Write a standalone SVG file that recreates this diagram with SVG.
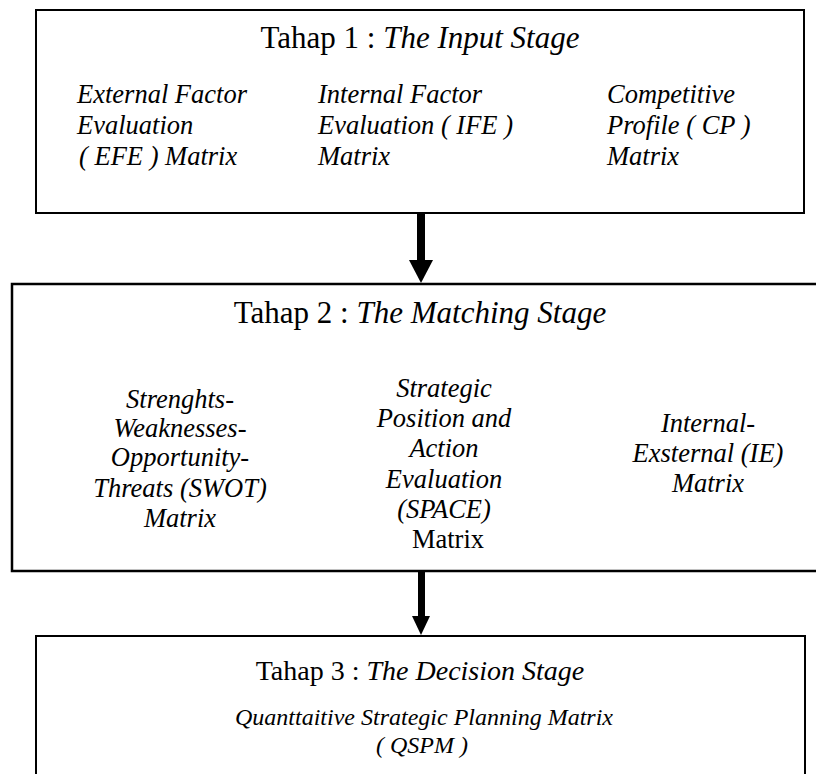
<svg xmlns="http://www.w3.org/2000/svg" width="816" height="774" viewBox="0 0 816 774">
<style>
.box{fill:#fff;stroke:#000;stroke-width:2}
.t{font-family:"Liberation Serif","Times New Roman",serif;fill:#000}
.title{font-size:31px;text-anchor:middle}
.body{font-size:26.5px;font-style:italic}
.m{text-anchor:middle}
.i{font-style:italic}
.n{font-style:normal}
</style>
<rect width="816" height="774" fill="#fff"/>
<g id="stage1">
<rect class="box" x="36" y="10" width="768" height="203"/>
<text class="t title" x="420" y="48">Tahap 1 : <tspan class="i">The Input Stage</tspan></text>
<text class="t body"><tspan x="77" y="103">External Factor</tspan><tspan x="77" y="134">Evaluation</tspan><tspan x="79" y="165">( EFE ) Matrix</tspan></text>
<text class="t body"><tspan x="318" y="103">Internal Factor</tspan><tspan x="318" y="134">Evaluation ( IFE )</tspan><tspan x="318" y="165">Matrix</tspan></text>
<text class="t body"><tspan x="607" y="103">Competitive</tspan><tspan x="607" y="134">Profile ( CP )</tspan><tspan x="607" y="165">Matrix</tspan></text>
</g>
<g id="stage2">
<rect class="box" x="12" y="284" width="820" height="287" style="stroke-width:2.5"/>
<text class="t title" x="420" y="323">Tahap 2 : <tspan class="i">The Matching Stage</tspan></text>
<text class="t body m"><tspan x="180" y="408">Strenghts-</tspan><tspan x="180" y="437">Weaknesses-</tspan><tspan x="180" y="466">Opportunity-</tspan><tspan x="180" y="497">Threats (SWOT)</tspan><tspan x="180" y="527">Matrix</tspan></text>
<text class="t body m"><tspan x="444" y="397">Strategic</tspan><tspan x="444" y="427">Position and</tspan><tspan x="444" y="457">Action</tspan><tspan x="444" y="488">Evaluation</tspan><tspan x="444" y="518">(SPACE)</tspan><tspan class="n" x="448" y="548">Matrix</tspan></text>
<text class="t body m"><tspan x="708" y="432">Internal-</tspan><tspan x="708" y="462">Exsternal (IE)</tspan><tspan x="708" y="492">Matrix</tspan></text>
</g>
<g id="stage3">
<rect class="box" x="36" y="636" width="769" height="200"/>
<text class="t title" x="420" y="680" style="font-size:28px">Tahap 3 : <tspan class="i">The Decision Stage</tspan></text>
<text class="t body m" style="font-size:24px"><tspan x="424" y="725">Quanttaitive Strategic Planning Matrix</tspan><tspan x="422" y="753">( QSPM )</tspan></text>
</g>
<g id="connectors">
<rect x="417" y="213" width="8" height="49"/>
<polygon points="409,260 433,260 421,283"/>
<rect x="418" y="572" width="7" height="46"/>
<polygon points="412,616 430,616 421,635"/>
</g>
</svg>
